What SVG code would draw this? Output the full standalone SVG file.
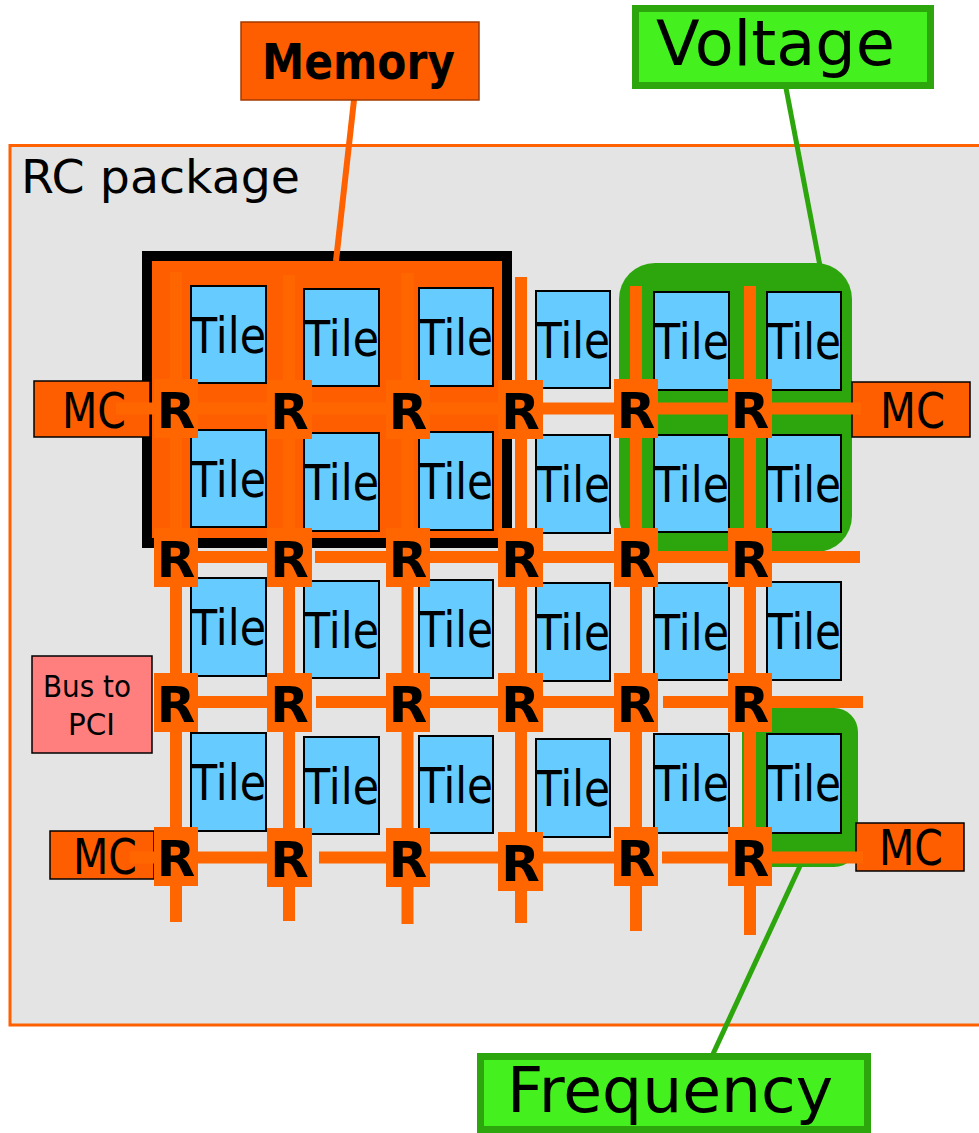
<svg xmlns="http://www.w3.org/2000/svg" width="979" height="1133" viewBox="0 0 979 1133">
<style>
text{font-family:"DejaVu Sans","Verdana",sans-serif;fill:#000}
.tile{fill:#66ccff;stroke:#000;stroke-width:2}
.tt{font-size:50px}
.rb{fill:#ff6600}
.rt{font-size:50px;font-weight:bold;text-anchor:middle}
.mc{fill:#ff5e00;stroke:#000;stroke-width:1.5}
.mct{font-size:49px}
.ln{stroke:#ff6600;stroke-width:12;fill:none}
.hl{stroke:#ff6600;stroke-width:12;fill:none}
</style>
<rect id="package" x="10" y="145.5" width="1000" height="879.5" fill="#e3e4e3" stroke="#ff6000" stroke-width="3"/>
<text x="21" y="193" font-size="47" textLength="279" lengthAdjust="spacingAndGlyphs">RC package</text>
<g id="memory-region">
<rect x="147" y="256" width="360" height="287" fill="#ff5e00" stroke="#000" stroke-width="10"/>
</g>
<g id="voltage-region">
<rect x="619" y="263" width="233" height="289" rx="36" fill="#2ca60c"/>
</g>
<g id="frequency-region">
<rect x="742" y="708" width="116" height="159" rx="24" fill="#2ca60c"/>
</g>
<g id="mc-boxes">
<g id="mc1"><rect class="mc" x="34" y="381" width="116" height="56"/><text class="mct" x="62" y="428" textLength="64" lengthAdjust="spacingAndGlyphs">MC</text></g>
<g id="mc2"><rect class="mc" x="852" y="382" width="118" height="55"/><text class="mct" x="880" y="428" textLength="65" lengthAdjust="spacingAndGlyphs">MC</text></g>
<g id="mc3"><rect class="mc" x="50" y="831" width="104" height="48"/><text class="mct" x="73" y="874" textLength="64" lengthAdjust="spacingAndGlyphs">MC</text></g>
<g id="mc4"><rect class="mc" x="856" y="823" width="108" height="48"/><text class="mct" x="879" y="865" textLength="64" lengthAdjust="spacingAndGlyphs">MC</text></g>
</g>
<g id="bus-pci">
<rect x="32" y="656" width="120" height="97" fill="#ff7f7f" stroke="#000" stroke-width="1.5"/>
<text x="43" y="697" font-size="30" textLength="88" lengthAdjust="spacingAndGlyphs">Bus to</text>
<text x="68" y="735" font-size="30" textLength="47" lengthAdjust="spacingAndGlyphs">PCI</text>
</g>
<g id="connectors">
<line class="ln" x1="176" y1="272" x2="176" y2="922"/>
<line class="ln" x1="289" y1="275" x2="289" y2="921"/>
<line class="ln" x1="407.5" y1="273" x2="407.5" y2="924"/>
<line class="ln" x1="521" y1="277" x2="521" y2="923"/>
<line class="ln" x1="636" y1="286" x2="636" y2="931"/>
<line class="ln" x1="750" y1="286" x2="750" y2="935"/>
<line class="hl" x1="116" y1="408.5" x2="861" y2="408.5"/>
<line class="hl" x1="176" y1="557" x2="312" y2="557"/>
<line class="hl" x1="315" y1="557" x2="860" y2="557"/>
<line class="hl" x1="176" y1="702" x2="312" y2="702"/>
<line class="hl" x1="316" y1="702" x2="658" y2="702"/>
<line class="hl" x1="663" y1="702" x2="863" y2="702"/>
<line class="hl" x1="130" y1="857.5" x2="312" y2="857.5"/>
<line class="hl" x1="319" y1="857.5" x2="658" y2="857.5"/>
<line class="hl" x1="662" y1="857.5" x2="863" y2="857.5"/>
<line x1="354" y1="100" x2="336" y2="261" stroke="#ff6000" stroke-width="6"/>
<line x1="786" y1="88" x2="820" y2="266" stroke="#2ca60c" stroke-width="5"/>
<line x1="800" y1="866" x2="713" y2="1054" stroke="#2ca60c" stroke-width="5"/>
</g>
<g id="tiles">
<g id="t11"><rect class="tile" x="191" y="286" width="75" height="97"/><text class="tt" x="191" y="353" textLength="75" lengthAdjust="spacingAndGlyphs">Tile</text></g>
<g id="t12"><rect class="tile" x="304" y="289" width="75" height="97"/><text class="tt" x="304" y="356" textLength="75" lengthAdjust="spacingAndGlyphs">Tile</text></g>
<g id="t13"><rect class="tile" x="419" y="288" width="74" height="98"/><text class="tt" x="419" y="355" textLength="74" lengthAdjust="spacingAndGlyphs">Tile</text></g>
<g id="t14"><rect class="tile" x="536" y="291" width="74" height="97"/><text class="tt" x="536" y="358" textLength="74" lengthAdjust="spacingAndGlyphs">Tile</text></g>
<g id="t15"><rect class="tile" x="654" y="292" width="75" height="98"/><text class="tt" x="654" y="359" textLength="75" lengthAdjust="spacingAndGlyphs">Tile</text></g>
<g id="t16"><rect class="tile" x="767" y="292" width="74" height="98"/><text class="tt" x="767" y="359" textLength="74" lengthAdjust="spacingAndGlyphs">Tile</text></g>
<g id="t21"><rect class="tile" x="191" y="430" width="75" height="97"/><text class="tt" x="191" y="497" textLength="75" lengthAdjust="spacingAndGlyphs">Tile</text></g>
<g id="t22"><rect class="tile" x="304" y="433" width="75" height="98"/><text class="tt" x="304" y="500" textLength="75" lengthAdjust="spacingAndGlyphs">Tile</text></g>
<g id="t23"><rect class="tile" x="419" y="432" width="74" height="98"/><text class="tt" x="419" y="499" textLength="74" lengthAdjust="spacingAndGlyphs">Tile</text></g>
<g id="t24"><rect class="tile" x="536" y="435" width="74" height="98"/><text class="tt" x="536" y="502" textLength="74" lengthAdjust="spacingAndGlyphs">Tile</text></g>
<g id="t25"><rect class="tile" x="654" y="435" width="75" height="97"/><text class="tt" x="654" y="502" textLength="75" lengthAdjust="spacingAndGlyphs">Tile</text></g>
<g id="t26"><rect class="tile" x="767" y="435" width="74" height="97"/><text class="tt" x="767" y="502" textLength="74" lengthAdjust="spacingAndGlyphs">Tile</text></g>
<g id="t31"><rect class="tile" x="191" y="578" width="75" height="98"/><text class="tt" x="191" y="645" textLength="75" lengthAdjust="spacingAndGlyphs">Tile</text></g>
<g id="t32"><rect class="tile" x="304" y="581" width="75" height="97"/><text class="tt" x="304" y="648" textLength="75" lengthAdjust="spacingAndGlyphs">Tile</text></g>
<g id="t33"><rect class="tile" x="419" y="580" width="74" height="98"/><text class="tt" x="419" y="647" textLength="74" lengthAdjust="spacingAndGlyphs">Tile</text></g>
<g id="t34"><rect class="tile" x="536" y="583" width="74" height="98"/><text class="tt" x="536" y="650" textLength="74" lengthAdjust="spacingAndGlyphs">Tile</text></g>
<g id="t35"><rect class="tile" x="654" y="583" width="75" height="97"/><text class="tt" x="654" y="650" textLength="75" lengthAdjust="spacingAndGlyphs">Tile</text></g>
<g id="t36"><rect class="tile" x="767" y="582" width="74" height="98"/><text class="tt" x="767" y="649" textLength="74" lengthAdjust="spacingAndGlyphs">Tile</text></g>
<g id="t41"><rect class="tile" x="191" y="733" width="75" height="98"/><text class="tt" x="191" y="800" textLength="75" lengthAdjust="spacingAndGlyphs">Tile</text></g>
<g id="t42"><rect class="tile" x="304" y="737" width="75" height="97"/><text class="tt" x="304" y="804" textLength="75" lengthAdjust="spacingAndGlyphs">Tile</text></g>
<g id="t43"><rect class="tile" x="419" y="736" width="74" height="97"/><text class="tt" x="419" y="803" textLength="74" lengthAdjust="spacingAndGlyphs">Tile</text></g>
<g id="t44"><rect class="tile" x="536" y="739" width="74" height="98"/><text class="tt" x="536" y="806" textLength="74" lengthAdjust="spacingAndGlyphs">Tile</text></g>
<g id="t45"><rect class="tile" x="654" y="734" width="75" height="99"/><text class="tt" x="654" y="801" textLength="75" lengthAdjust="spacingAndGlyphs">Tile</text></g>
<g id="t46"><rect class="tile" x="767" y="734" width="74" height="99"/><text class="tt" x="767" y="801" textLength="74" lengthAdjust="spacingAndGlyphs">Tile</text></g>
</g>
<g id="routers">
<g id="r11"><rect class="rb" x="154" y="379" width="44" height="59"/><text class="rt" x="176" y="428">R</text></g>
<g id="r12"><rect class="rb" x="267" y="380" width="45" height="59"/><text class="rt" x="289.5" y="429">R</text></g>
<g id="r13"><rect class="rb" x="386" y="380" width="44" height="59"/><text class="rt" x="408" y="429">R</text></g>
<g id="r14"><rect class="rb" x="498" y="380" width="45" height="59"/><text class="rt" x="520.5" y="429">R</text></g>
<g id="r15"><rect class="rb" x="614" y="379" width="44" height="59"/><text class="rt" x="636" y="428">R</text></g>
<g id="r16"><rect class="rb" x="728" y="379" width="44" height="59"/><text class="rt" x="750" y="428">R</text></g>
<g id="r21"><rect class="rb" x="154" y="528" width="44" height="59"/><text class="rt" x="176" y="577">R</text></g>
<g id="r22"><rect class="rb" x="267" y="528" width="45" height="59"/><text class="rt" x="289.5" y="577">R</text></g>
<g id="r23"><rect class="rb" x="386" y="528" width="44" height="59"/><text class="rt" x="408" y="577">R</text></g>
<g id="r24"><rect class="rb" x="498" y="528" width="45" height="59"/><text class="rt" x="520.5" y="577">R</text></g>
<g id="r25"><rect class="rb" x="614" y="528" width="44" height="59"/><text class="rt" x="636" y="577">R</text></g>
<g id="r26"><rect class="rb" x="728" y="528" width="44" height="59"/><text class="rt" x="750" y="577">R</text></g>
<g id="r31"><rect class="rb" x="154" y="673" width="44" height="59"/><text class="rt" x="176" y="722">R</text></g>
<g id="r32"><rect class="rb" x="267" y="673" width="45" height="59"/><text class="rt" x="289.5" y="722">R</text></g>
<g id="r33"><rect class="rb" x="386" y="673" width="44" height="59"/><text class="rt" x="408" y="722">R</text></g>
<g id="r34"><rect class="rb" x="498" y="673" width="45" height="59"/><text class="rt" x="520.5" y="722">R</text></g>
<g id="r35"><rect class="rb" x="614" y="673" width="44" height="59"/><text class="rt" x="636" y="722">R</text></g>
<g id="r36"><rect class="rb" x="728" y="673" width="44" height="59"/><text class="rt" x="750" y="722">R</text></g>
<g id="r41"><rect class="rb" x="154" y="827" width="44" height="59"/><text class="rt" x="176" y="876">R</text></g>
<g id="r42"><rect class="rb" x="267" y="828" width="45" height="59"/><text class="rt" x="289.5" y="877">R</text></g>
<g id="r43"><rect class="rb" x="386" y="828" width="44" height="59"/><text class="rt" x="408" y="877">R</text></g>
<g id="r44"><rect class="rb" x="498" y="832" width="45" height="59"/><text class="rt" x="520.5" y="881">R</text></g>
<g id="r45"><rect class="rb" x="614" y="827" width="44" height="59"/><text class="rt" x="636" y="876">R</text></g>
<g id="r46"><rect class="rb" x="728" y="827" width="44" height="59"/><text class="rt" x="750" y="876">R</text></g>
</g>
<g id="memory-label">
<rect x="241" y="22" width="238" height="78" fill="#ff5e00" stroke="#a33a00" stroke-width="1.5"/>
<text x="262" y="79" font-size="50" font-weight="bold" textLength="193" lengthAdjust="spacingAndGlyphs">Memory</text>
</g>
<g id="voltage-label">
<rect x="635.5" y="8.5" width="295" height="77" fill="#44f01e" stroke="#2ca60c" stroke-width="7"/>
<text x="656" y="65" font-size="63" textLength="239" lengthAdjust="spacingAndGlyphs">Voltage</text>
</g>
<g id="frequency-label">
<rect x="480.5" y="1056.5" width="387" height="73" fill="#44f01e" stroke="#2ca60c" stroke-width="7"/>
<text x="507" y="1112" font-size="63" textLength="326" lengthAdjust="spacingAndGlyphs">Frequency</text>
</g>
</svg>
